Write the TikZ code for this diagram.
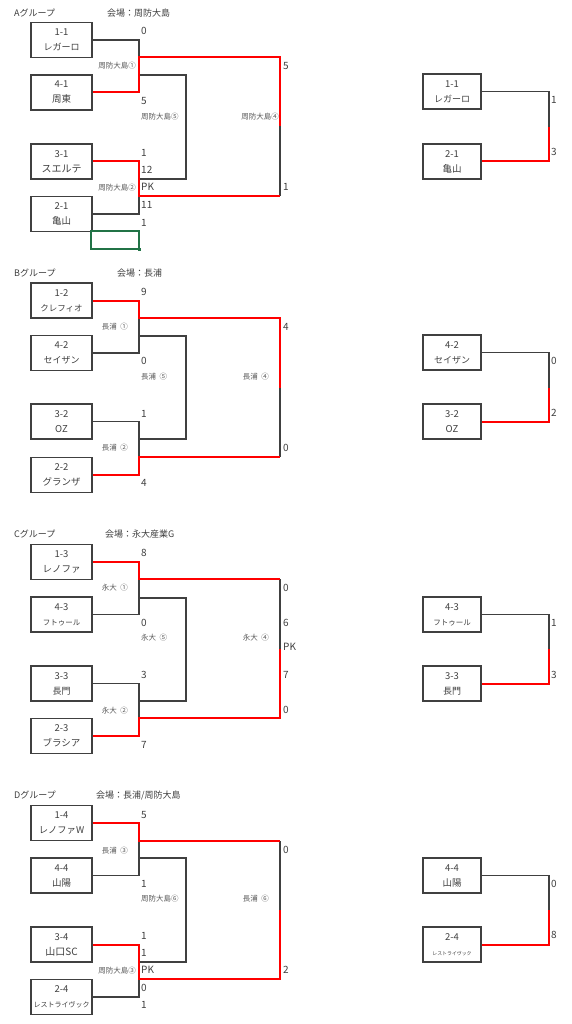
\documentclass[tikz,border=0pt]{standalone}
\usepackage{fontspec}
\setmainfont{Noto Sans CJK JP}
\definecolor{txt}{HTML}{404040}
\definecolor{lbl}{HTML}{595959}
\definecolor{boxc}{HTML}{404040}
\definecolor{linec}{HTML}{404040}
\definecolor{winc}{HTML}{FF0000}
\definecolor{selc}{HTML}{217346}
\newcommand\nmf[1]{\fontsize{#1}{15}\selectfont}
\tikzset{
 tbox/.style={draw=boxc, line width=1.1pt, minimum width=61pt, minimum height=35pt, inner sep=0pt, align=center, font=\fontsize{9.5}{15}\selectfont, text=txt},
 rbox/.style={tbox, minimum width=58pt},
 conn/.style={draw=linec, line width=1.1pt},
 win/.style={draw=winc, line width=2pt},
 score/.style={anchor=west, inner sep=0pt, font=\fontsize{10}{12}\selectfont, text=txt},
 venue/.style={inner sep=0pt, font=\fontsize{7.5}{9}\selectfont, text=lbl},
 title/.style={anchor=west, inner sep=0pt, font=\fontsize{9}{11}\selectfont, text=txt},
 sel/.style={draw=selc, line width=1.3pt},
}
\begin{document}
\begin{tikzpicture}[x=1pt,y=-1pt]
\fill[white] (0,0) rectangle (571,1024);
\useasboundingbox (0,0) rectangle (571,1024);

% ================= Group A =================
\node[title] (tA) at (14,13) {Aグループ};
\node[title] (vA) at (107,13) {会場：周防大島};
\node[tbox] (a11) at (61.5,40) {1-1\\\nmf{9}レガーロ};
\node[tbox] (a41) at (61.5,92.5) {4-1\\\nmf{9.5}周東};
\node[tbox] (a31) at (61.5,161.5) {3-1\\\nmf{10}スエルテ};
\node[tbox] (a21) at (61.5,214) {2-1\\\nmf{9.5}亀山};
\coordinate (jA1) at (139,57);
\coordinate (jA2) at (139,196);
\coordinate (fA1) at (280,57);
\coordinate (fA) at (280,126.5);
\coordinate (fA2) at (280,196);
\coordinate (lA1) at (139,75);
\coordinate (lAx) at (186,75);
\coordinate (lA2) at (139,179);
\draw[conn] (a11.east) -| (jA1);
\draw[conn] (a21.east) -| (jA2);
\draw[conn] (lA1) -- (lAx) |- (lA2);
\draw[conn] (fA) -- (fA2);
\draw[win] (a41.east) -| (jA1) -- (fA1) -- (fA);
\draw[win] (a31.east) -| (jA2) -- (fA2);
\draw[sel] (91,231) rectangle (139,249);
\fill[selc] (137.5,247.5) rectangle (140.5,250.5);
\node[score] (sA1) at (141,31) {0};
\node[score] (sA2) at (141,101) {5};
\node[score] (sA3) at (141,153) {1};
\node[score] (sA4) at (141,170) {12};
\node[score] (sA5) at (141,187) {PK};
\node[score] (sA6) at (141,205) {11};
\node[score] (sA7) at (141,223) {1};
\node[score] (sA8) at (283,66) {5};
\node[score] (sA9) at (283,187) {1};
\node[venue, anchor=east] (vA1) at (136,66) {周防大島①};
\node[venue, anchor=west] (vA5) at (141,117) {周防大島⑤};
\node[venue, anchor=east] (vA4) at (279,117) {周防大島④};
\node[venue, anchor=east] (vA2) at (136,188) {周防大島②};
% right A
\node[rbox] (ra11) at (452,91.5) {1-1\\\nmf{9}レガーロ};
\node[rbox] (ra21) at (452,161.5) {2-1\\\nmf{9.5}亀山};
\coordinate (rA) at (549,127);
\draw[conn] (ra11.east) -| (rA);
\draw[win] (ra21.east) -| (rA);
\node[score] (rsA1) at (551,100) {1};
\node[score] (rsA2) at (551,152) {3};

% ================= Group B =================
\node[title] (tB) at (14,273) {Bグループ};
\node[title] (vB) at (117,273) {会場：長浦};
\node[tbox] (b12) at (61.5,300.5) {1-2\\\nmf{8.5}クレフィオ};
\node[tbox] (b42) at (61.5,353) {4-2\\\nmf{9}セイザン};
\node[tbox] (b32) at (61.5,421.5) {3-2\\\nmf{9.5}OZ};
\node[tbox] (b22) at (61.5,475) {2-2\\\nmf{9.5}グランザ};
\coordinate (jB1) at (139,318);
\coordinate (jB2) at (139,457);
\coordinate (fB1) at (280,318);
\coordinate (fB) at (280,387.5);
\coordinate (fB2) at (280,457);
\coordinate (lB1) at (139,336);
\coordinate (lBx) at (186,336);
\coordinate (lB2) at (139,439);
\draw[conn] (b42.east) -| (jB1);
\draw[conn] (b32.east) -| (jB2);
\draw[conn] (lB1) -- (lBx) |- (lB2);
\draw[conn] (fB) -- (fB2);
\draw[win] (b12.east) -| (jB1) -- (fB1) -- (fB);
\draw[win] (b22.east) -| (jB2) -- (fB2);
\node[score] (sB1) at (141,292) {9};
\node[score] (sB2) at (141,361) {0};
\node[score] (sB3) at (141,414) {1};
\node[score] (sB4) at (141,483) {4};
\node[score] (sB5) at (283,327) {4};
\node[score] (sB6) at (283,448) {0};
\node[venue, anchor=east] (vB1) at (128,327) {長浦\ \ ①};
\node[venue, anchor=west] (vB5) at (141,377) {長浦\ \ ⑤};
\node[venue, anchor=east] (vB4) at (269,377) {長浦\ \ ④};
\node[venue, anchor=east] (vB2) at (128,448) {長浦\ \ ②};
% right B
\node[rbox] (rb42) at (452,352.5) {4-2\\\nmf{9}セイザン};
\node[rbox] (rb32) at (452,421.5) {3-2\\\nmf{9.5}OZ};
\coordinate (rB) at (549,388);
\draw[conn] (rb42.east) -| (rB);
\draw[win] (rb32.east) -| (rB);
\node[score] (rsB1) at (551,361) {0};
\node[score] (rsB2) at (551,413) {2};

% ================= Group C =================
\node[title] (tC) at (14,534) {Cグループ};
\node[title] (vC) at (105,534) {会場：永大産業G};
\node[tbox] (c13) at (61.5,562) {1-3\\\nmf{9.5}レノファ};
\node[tbox] (c43) at (61.5,614.5) {4-3\\\nmf{7.5}フトゥール};
\node[tbox] (c33) at (61.5,683.5) {3-3\\\nmf{9}長門};
\node[tbox] (c23) at (61.5,736) {2-3\\\nmf{9.5}ブラシア};
\coordinate (jC1) at (139,579);
\coordinate (jC2) at (139,718);
\coordinate (fC1) at (280,579);
\coordinate (fC) at (280,648.5);
\coordinate (fC2) at (280,718);
\coordinate (lC1) at (139,598);
\coordinate (lCx) at (186,598);
\coordinate (lC2) at (139,701);
\draw[conn] (c43.east) -| (jC1);
\draw[conn] (c33.east) -| (jC2);
\draw[conn] (lC1) -- (lCx) |- (lC2);
\draw[conn] (fC1) -- (fC);
\draw[win] (c13.east) -| (jC1) -- (fC1);
\draw[win] (c23.east) -| (jC2) -- (fC2) -- (fC);
\node[score] (sC1) at (141,553) {8};
\node[score] (sC2) at (141,623) {0};
\node[score] (sC3) at (141,675) {3};
\node[score] (sC4) at (141,745) {7};
\node[score] (sC5) at (283,588) {0};
\node[score] (sC6) at (283,623) {6};
\node[score] (sC7) at (283,647) {PK};
\node[score] (sC8) at (283,675) {7};
\node[score] (sC9) at (283,710) {0};
\node[venue, anchor=east] (vC1) at (128,588) {永大\ \ ①};
\node[venue, anchor=west] (vC5) at (141,638) {永大\ \ ⑤};
\node[venue, anchor=east] (vC4) at (269,638) {永大\ \ ④};
\node[venue, anchor=east] (vC2) at (128,711) {永大\ \ ②};
% right C
\node[rbox] (rc43) at (452,614.5) {4-3\\\nmf{7.5}フトゥール};
\node[rbox] (rc33) at (452,683.5) {3-3\\\nmf{9}長門};
\coordinate (rC) at (549,648.5);
\draw[conn] (rc43.east) -| (rC);
\draw[win] (rc33.east) -| (rC);
\node[score] (rsC1) at (551,623) {1};
\node[score] (rsC2) at (551,675) {3};

% ================= Group D =================
\node[title] (tD) at (14,795) {Dグループ};
\node[title] (vD) at (96,795) {会場：長浦/周防大島};
\node[tbox] (d14) at (61.5,823) {1-4\\\nmf{9.3}レノファW};
\node[tbox] (d44) at (61.5,875.5) {4-4\\\nmf{9.5}山陽};
\node[tbox] (d34) at (61.5,944.5) {3-4\\\nmf{10}山口SC};
\node[tbox] (d24) at (61.5,997) {2-4\\\nmf{7}レストライヴック};
\coordinate (jD1) at (139,841);
\coordinate (jD2) at (139,979);
\coordinate (fD1) at (280,841);
\coordinate (fD) at (280,910);
\coordinate (fD2) at (280,979);
\coordinate (lD1) at (139,858);
\coordinate (lDx) at (186,858);
\coordinate (lD2) at (139,962);
\draw[conn] (d44.east) -| (jD1);
\draw[conn] (d24.east) -| (jD2);
\draw[conn] (lD1) -- (lDx) |- (lD2);
\draw[conn] (fD1) -- (fD);
\draw[win] (d14.east) -| (jD1) -- (fD1);
\draw[win] (d34.east) -| (jD2) -- (fD2) -- (fD);
\node[score] (sD1) at (141,815) {5};
\node[score] (sD2) at (141,884) {1};
\node[score] (sD3) at (141,936) {1};
\node[score] (sD4) at (141,953) {1};
\node[score] (sD5) at (141,970) {PK};
\node[score] (sD6) at (141,988) {0};
\node[score] (sD7) at (141,1005) {1};
\node[score] (sD8) at (283,850) {0};
\node[score] (sD9) at (283,970) {2};
\node[venue, anchor=east] (vD3) at (128,851) {長浦\ \ ③};
\node[venue, anchor=west] (vD6) at (141,899) {周防大島⑥};
\node[venue, anchor=east] (vD6b) at (269,899) {長浦\ \ ⑥};
\node[venue, anchor=east] (vD3b) at (136,971) {周防大島③};
% right D
\node[rbox] (rd44) at (452,875.5) {4-4\\\nmf{9.5}山陽};
\node[rbox] (rd24) at (452,944.5) {2-4\\\nmf{4.9}レストライヴック};
\coordinate (rD) at (549,910);
\draw[conn] (rd44.east) -| (rD);
\draw[win] (rd24.east) -| (rD);
\node[score] (rsD1) at (551,884) {0};
\node[score] (rsD2) at (551,935) {8};
\end{tikzpicture}
\end{document}
